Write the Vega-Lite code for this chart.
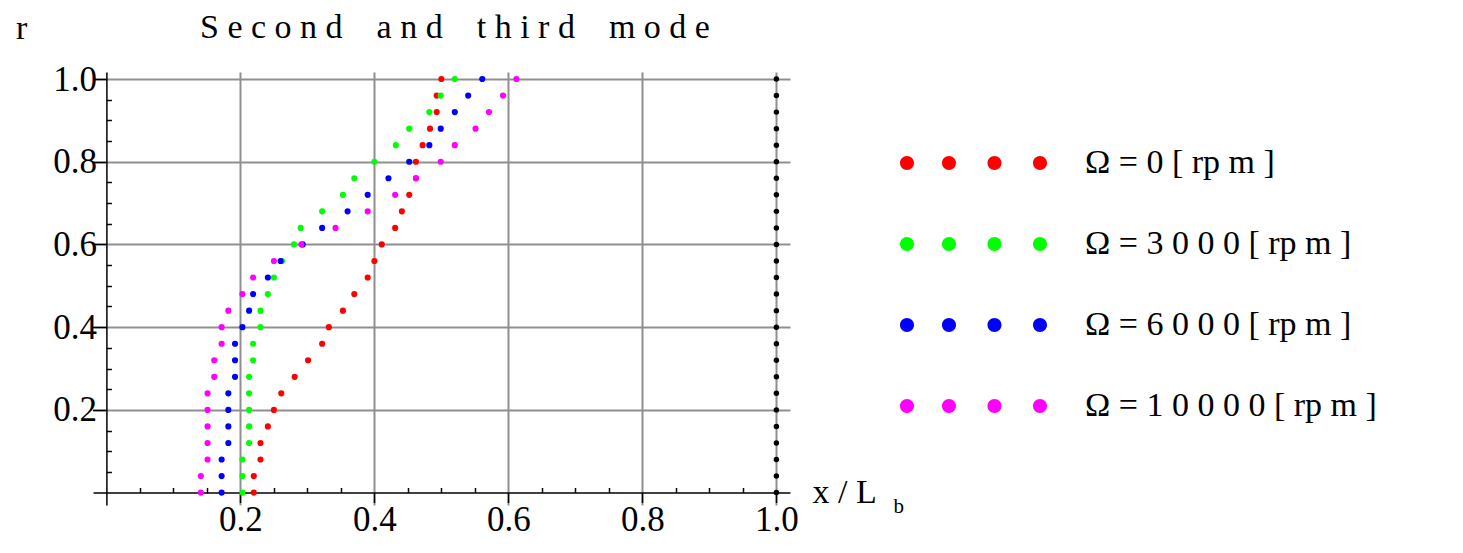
{
  "$schema": "https://vega.github.io/schema/vega-lite/v6.json",
  "width": 697,
  "height": 433,
  "autosize": {"type": "none"},
  "padding": {"left": 93, "top": 72, "right": 673, "bottom": 48},
  "background": "white",
  "config": {"view": {"stroke": null}, "font": "Liberation Serif"},
  "title": {
    "text": "S e c o n d \u00a0\u00a0 a n d \u00a0\u00a0 t h i r d \u00a0\u00a0 m o d e",
    "anchor": "start",
    "frame": "group",
    "dx": 107,
    "offset": 0,
    "dy": 61,
    "baseline": "alphabetic",
    "font": "Liberation Serif",
    "fontSize": 34,
    "fontWeight": "normal",
    "color": "#000000"
  },
  "data": {
    "values": [
      {"r": 0.00, "s0": 0.220, "s3": 0.203, "s6": 0.172, "s10": 0.141, "edge": 1.0},
      {"r": 0.04, "s0": 0.220, "s3": 0.203, "s6": 0.172, "s10": 0.141, "edge": 1.0},
      {"r": 0.08, "s0": 0.230, "s3": 0.203, "s6": 0.172, "s10": 0.151, "edge": 1.0},
      {"r": 0.12, "s0": 0.230, "s3": 0.213, "s6": 0.182, "s10": 0.151, "edge": 1.0},
      {"r": 0.16, "s0": 0.241, "s3": 0.213, "s6": 0.182, "s10": 0.151, "edge": 1.0},
      {"r": 0.20, "s0": 0.250, "s3": 0.213, "s6": 0.182, "s10": 0.151, "edge": 1.0},
      {"r": 0.24, "s0": 0.261, "s3": 0.213, "s6": 0.182, "s10": 0.151, "edge": 1.0},
      {"r": 0.28, "s0": 0.281, "s3": 0.213, "s6": 0.192, "s10": 0.161, "edge": 1.0},
      {"r": 0.32, "s0": 0.301, "s3": 0.219, "s6": 0.192, "s10": 0.161, "edge": 1.0},
      {"r": 0.36, "s0": 0.322, "s3": 0.219, "s6": 0.192, "s10": 0.172, "edge": 1.0},
      {"r": 0.40, "s0": 0.332, "s3": 0.230, "s6": 0.203, "s10": 0.172, "edge": 1.0},
      {"r": 0.44, "s0": 0.353, "s3": 0.230, "s6": 0.213, "s10": 0.182, "edge": 1.0},
      {"r": 0.48, "s0": 0.370, "s3": 0.241, "s6": 0.219, "s10": 0.203, "edge": 1.0},
      {"r": 0.52, "s0": 0.390, "s3": 0.250, "s6": 0.241, "s10": 0.219, "edge": 1.0},
      {"r": 0.56, "s0": 0.400, "s3": 0.262, "s6": 0.260, "s10": 0.250, "edge": 1.0},
      {"r": 0.60, "s0": 0.411, "s3": 0.280, "s6": 0.293, "s10": 0.291, "edge": 1.0},
      {"r": 0.64, "s0": 0.431, "s3": 0.290, "s6": 0.322, "s10": 0.342, "edge": 1.0},
      {"r": 0.68, "s0": 0.441, "s3": 0.322, "s6": 0.360, "s10": 0.390, "edge": 1.0},
      {"r": 0.72, "s0": 0.452, "s3": 0.353, "s6": 0.390, "s10": 0.431, "edge": 1.0},
      {"r": 0.76, "s0": 0.462, "s3": 0.370, "s6": 0.421, "s10": 0.462, "edge": 1.0},
      {"r": 0.80, "s0": 0.462, "s3": 0.400, "s6": 0.452, "s10": 0.499, "edge": 1.0},
      {"r": 0.84, "s0": 0.472, "s3": 0.432, "s6": 0.482, "s10": 0.520, "edge": 1.0},
      {"r": 0.88, "s0": 0.483, "s3": 0.452, "s6": 0.499, "s10": 0.551, "edge": 1.0},
      {"r": 0.92, "s0": 0.493, "s3": 0.482, "s6": 0.520, "s10": 0.571, "edge": 1.0},
      {"r": 0.96, "s0": 0.493, "s3": 0.499, "s6": 0.540, "s10": 0.592, "edge": 1.0},
      {"r": 1.00, "s0": 0.500, "s3": 0.520, "s6": 0.561, "s10": 0.612, "edge": 1.0}
    ]
  },
  "resolve": {"axis": {"x": "independent", "y": "independent"}},
  "layer": [
    {
      "mark": {"type": "circle", "opacity": 1, "color": "#000000", "size": 30},
      "encoding": {
        "x": {
          "field": "edge",
          "type": "quantitative",
          "scale": {"domain": [-0.02, 1.0203], "nice": false, "zero": false},
          "axis": {
            "orient": "bottom",
            "values": [0.05, 0.1, 0.15, 0.25, 0.3, 0.35, 0.45, 0.5, 0.55, 0.65, 0.7, 0.75, 0.85, 0.9, 0.95],
            "offset": -12.5,
            "domain": false,
            "grid": false,
            "labels": false,
            "tickColor": "#000000",
            "tickWidth": 1.5,
            "tickSize": -5,
            "title": "b",
            "titleX": 800,
            "titleY": 19.5,
            "titleAlign": "left",
            "titleBaseline": "alphabetic",
            "titleFont": "Liberation Serif",
            "titleFontSize": 21,
            "titleFontWeight": "normal",
            "titleColor": "#000000"
          }
        },
        "y": {
          "field": "r",
          "type": "quantitative",
          "scale": {"domain": [-0.03, 1.017], "nice": false, "zero": false},
          "axis": {
            "orient": "left",
            "values": [0.05, 0.1, 0.15, 0.25, 0.3, 0.35, 0.45, 0.5, 0.55, 0.65, 0.7, 0.75, 0.85, 0.9, 0.95],
            "offset": -13.4,
            "domain": false,
            "grid": false,
            "labels": false,
            "tickColor": "#000000",
            "tickWidth": 1.5,
            "tickSize": -5,
            "title": null
          }
        }
      }
    },
    {
      "transform": [{"fold": ["s0", "s3", "s6", "s10"], "as": ["omega", "x"]}],
      "mark": {"type": "circle", "opacity": 1, "size": 38},
      "encoding": {
        "x": {
          "field": "x",
          "type": "quantitative",
          "scale": {"domain": [-0.02, 1.0203], "nice": false, "zero": false},
          "axis": {
            "orient": "bottom",
            "values": [0.2, 0.4, 0.6, 0.8, 1.0],
            "format": ".1f",
            "offset": -12.5,
            "domainColor": "#000000",
            "domainWidth": 1.5,
            "tickColor": "#000000",
            "tickWidth": 1.5,
            "tickSize": 10,
            "grid": true,
            "gridColor": "#8f8f8f",
            "gridWidth": 2,
            "labelFont": "Liberation Serif",
            "labelFontSize": 35,
            "labelColor": "#000000",
            "labelPadding": 0,
            "labelOverlap": false,
            "labelFlush": false,
            "title": "x / L",
            "titleX": 719,
            "titleY": 10,
            "titleAlign": "left",
            "titleBaseline": "alphabetic",
            "titleFont": "Liberation Serif",
            "titleFontSize": 34,
            "titleFontWeight": "normal",
            "titleColor": "#000000"
          }
        },
        "y": {
          "field": "r",
          "type": "quantitative",
          "scale": {"domain": [-0.03, 1.017], "nice": false, "zero": false},
          "axis": {
            "orient": "left",
            "values": [0.2, 0.4, 0.6, 0.8, 1.0],
            "format": ".1f",
            "offset": -13.4,
            "domainColor": "#000000",
            "domainWidth": 1.5,
            "tickColor": "#000000",
            "tickWidth": 1.5,
            "tickSize": 14,
            "grid": true,
            "gridColor": "#8f8f8f",
            "gridWidth": 2,
            "labelFont": "Liberation Serif",
            "labelFontSize": 35,
            "labelColor": "#000000",
            "labelPadding": -4,
            "labelOverlap": false,
            "labelFlush": false,
            "title": "r",
            "titleAngle": 0,
            "titleX": -91,
            "titleY": -34,
            "titleAlign": "left",
            "titleBaseline": "alphabetic",
            "titleFont": "Liberation Serif",
            "titleFontSize": 34,
            "titleFontWeight": "normal",
            "titleColor": "#000000"
          }
        },
        "color": {
          "field": "omega",
          "type": "nominal",
          "scale": {
            "domain": ["s0", "s3", "s6", "s10"],
            "range": ["#ff0000", "#00ff00", "#0000ff", "#ff00ff"]
          },
          "legend": {
            "orient": "none",
            "legendX": 797,
            "legendY": 74,
            "title": null,
            "padding": 0,
            "symbolType": "M-1,0a1,1 0 1,0 2,0a1,1 0 1,0 -2,0ZM5,0a1,1 0 1,0 2,0a1,1 0 1,0 -2,0ZM11.5,0a1,1 0 1,0 2,0a1,1 0 1,0 -2,0ZM18,0a1,1 0 1,0 2,0a1,1 0 1,0 -2,0Z",
            "symbolSize": 196,
            "symbolStrokeWidth": 0,
            "symbolOpacity": 1,
            "labelExpr": "datum.value == 's0' ? 'Ω = 0 [ rp m ]' : datum.value == 's3' ? 'Ω = 3 0 0 0 [ rp m ]' : datum.value == 's6' ? 'Ω = 6 0 0 0 [ rp m ]' : 'Ω = 1 0 0 0 0 [ rp m ]'",
            "labelFont": "Liberation Serif",
            "labelFontSize": 34,
            "labelColor": "#000000",
            "labelOffset": 161,
            "labelLimit": 500,
            "rowPadding": 47
          }
        }
      }
    }
  ]
}
